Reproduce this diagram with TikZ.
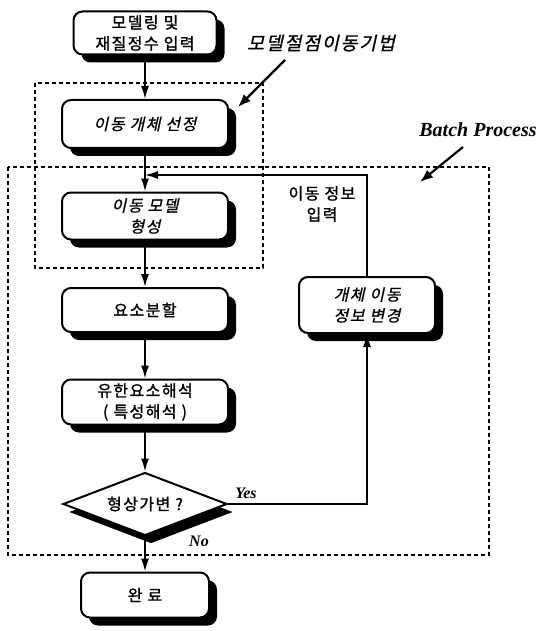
\documentclass[tikz,border=0pt]{standalone}
\usepackage{fontspec}
\setmainfont{Liberation Serif}
\newfontfamily\kr[LetterSpace=9,FakeBold=1.3]{Noto Sans CJK KR}
\newfontfamily\krit[FakeSlant=0.22,LetterSpace=9,FakeBold=0.9]{Noto Sans CJK KR}
\usetikzlibrary{shapes.geometric,shadows,arrows.meta}
\tikzset{
  box/.style={draw, line width=2pt, rounded corners=9pt, fill=white,
    minimum width=166pt, minimum height=46pt, align=center, inner sep=0pt,
    font=\kr\fontsize{16}{21}\selectfont,
    drop shadow={shadow xshift=8pt, shadow yshift=-8pt, fill=black, opacity=1}},
  ibox/.style={box, font=\krit\fontsize{16}{21}\selectfont},
  dec/.style={diamond, draw, line width=2pt, fill=white, aspect=2.5,
    minimum width=164pt, minimum height=63pt, inner sep=0pt,
    font=\kr\fontsize{16}{21}\selectfont,
    drop shadow={shadow xshift=6pt, shadow yshift=-8pt, fill=black, opacity=1}},
  dsh/.style={line width=1.3pt, dash pattern=on 4pt off 3pt},
  arr/.style={line width=1.7pt, -{Latex[length=13pt,width=8pt]}},
  ann/.style={line width=2.2pt, -{Latex[length=13pt,width=10pt]}},
  lat/.style={font=\bfseries\itshape\fontsize{16}{18}\selectfont}
}
\begin{document}
\begin{tikzpicture}[x=1pt,y=-1pt]
\useasboundingbox (0,0) rectangle (539,631);
% dashed groups
\draw[dsh] (35,83) rectangle (263,268);
\draw[dsh] (8,167) rectangle (489,555);
% nodes
\node[box, minimum width=143pt, minimum height=43pt] (b1) at (145,33) {모델링 및\\재질정수 입력};
\node[ibox, minimum height=48pt] (b2) at (145,124) {이동 개체 선정};
\node[ibox, minimum height=47pt] (b3) at (145,216) {이동 모델\\형성};
\node[box, minimum height=44pt] (b4) at (145,310) {요소분할};
\node[box, minimum height=45pt] (b5) at (145,402) {유한요소해석\\( 특성해석 )};
\node[dec] (d) at (145,504) {형상가변 ?};
\node[box, minimum width=128pt, minimum height=45pt] (b7) at (145,595) {완 료};
\node[ibox, minimum width=136pt, minimum height=56pt] (b6) at (367,305) {개체 이동\\정보 변경};
% labels
\node[font=\kr\fontsize{16}{21}\selectfont, align=center] (lab) at (322,204) {이동 정보\\입력};
\node[lat] (yes) at (246,493) {Yes};
\node[lat] (no) at (199,541) {No};
\node[font=\krit\fontsize{18.5}{22}\selectfont] (t1) at (321,43) {모델절점이동기법};
\node[font=\bfseries\itshape\fontsize{20}{24}\selectfont] (t2) at (478,130) {Batch Process};
\coordinate (j) at (145,175);
\coordinate (a1s) at (285,60);
\coordinate (a1e) at (238,107);
\coordinate (a2s) at (463,147);
\coordinate (a2e) at (420,182);
% connectors
\draw[arr] (b1) -- (b2);
\draw[arr] (b2) -- (b3);
\draw[arr] (b3) -- (b4);
\draw[arr] (b4) -- (b5);
\draw[arr] (b5) -- (d);
\draw[arr] (d) -- (b7);
\draw[arr] (d.east) -| (b6.south);
\draw[arr] (b6.north) |- (j);
\draw[ann] (a1s) -- (a1e);
\draw[ann] (a2s) -- (a2e);
\end{tikzpicture}
\end{document}
